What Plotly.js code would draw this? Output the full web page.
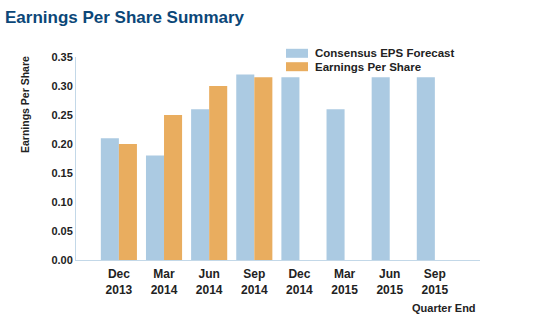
<!DOCTYPE html>
<html>
<head>
<meta charset="utf-8">
<script src="https://cdn.plot.ly/plotly-3.0.1.min.js"></script>
<style>html,body{margin:0;padding:0;background:#fff;}#chart{width:553px;height:330px;}</style>
</head>
<body>
<div id="chart"></div>
<script>
var categories = ["Dec<br>2013","Mar<br>2014","Jun<br>2014","Sep<br>2014","Dec<br>2014","Mar<br>2015","Jun<br>2015","Sep<br>2015"];
var consensusEPS = [0.21, 0.18, 0.26, 0.32, 0.315, 0.26, 0.315, 0.315];
var actualEPS = [0.20, 0.25, 0.30, 0.315, null, null, null, null];
var yTickValues = [0, 0.05, 0.10, 0.15, 0.20, 0.25, 0.30, 0.35];
var seriesNames = ["Consensus EPS Forecast", "Earnings Per Share"];
var seriesColors = ["#abcae2", "#e9ad5f"];

var font = "Liberation Sans, Arial, sans-serif";
var traces = [
  {type: "bar", name: seriesNames[0], x: categories, y: consensusEPS,
   marker: {color: seriesColors[0]}, hoverinfo: "y"},
  {type: "bar", name: seriesNames[1], x: categories, y: actualEPS,
   marker: {color: seriesColors[1]}, hoverinfo: "y"}
];

// plot area: x 76..480, y 57..260 (pixels)
function px(x){ return (x - 76) / 404; }
function py(y){ return (260 - y) / 203; }

var shapes = [], annotations = [];
var legendRows = [53.3, 66.7];
seriesNames.forEach(function(n, i){
  var yc = legendRows[i];
  shapes.push({type: "rect", xref: "paper", yref: "paper", x0: px(286), x1: px(308),
               y0: py(yc + 4.5), y1: py(yc - 4.5), fillcolor: seriesColors[i], line: {width: 0}});
  annotations.push({text: "<b>" + n + "</b>", xref: "paper", yref: "paper", x: px(313), y: py(yc),
                    xanchor: "left", yanchor: "middle", showarrow: false,
                    font: {family: font, size: 11.5, color: "#222"}});
});
annotations.push({text: "<b>Earnings Per Share</b>", xref: "paper", yref: "paper", x: px(25), y: py(105),
  xanchor: "center", yanchor: "middle", textangle: -90, showarrow: false,
  font: {family: font, size: 10.5, color: "#222"}});
annotations.push({text: "<b>Quarter End</b>", xref: "paper", yref: "paper", x: px(444), y: py(308),
  xanchor: "center", yanchor: "middle", showarrow: false,
  font: {family: font, size: 11, color: "#222"}});

var layout = {
  width: 553, height: 330,
  margin: {l: 76, r: 73, t: 57, b: 70},
  paper_bgcolor: "#fff", plot_bgcolor: "#fff",
  barmode: "group", bargap: 0.2, bargroupgap: 0,
  title: {text: "<b>Earnings Per Share Summary</b>", font: {family: font, size: 17, color: "#0b4778"},
          xref: "container", yref: "container", x: 5/553, xanchor: "left", y: 1 - 17/330, yanchor: "middle"},
  xaxis: {type: "category", range: [-0.95, 8], showgrid: false, zeroline: false,
          showline: true, linecolor: "#c3d8e8", linewidth: 1, ticks: "", ticklabelstandoff: 3,
          tickfont: {family: font, size: 12, color: "#222", weight: "bold"}, fixedrange: true},
  yaxis: {range: [0, 0.35], tickvals: yTickValues, tickformat: ".2f", showgrid: false, zeroline: false,
          showline: true, linecolor: "#c3d8e8", linewidth: 1, ticks: "",
          tickfont: {family: font, size: 11, color: "#222", weight: "bold"}, fixedrange: true},
  showlegend: false,
  font: {family: font},
  shapes: shapes,
  annotations: annotations
};
Plotly.newPlot("chart", traces, layout, {displayModeBar: false, staticPlot: true});
</script>
</body>
</html>
